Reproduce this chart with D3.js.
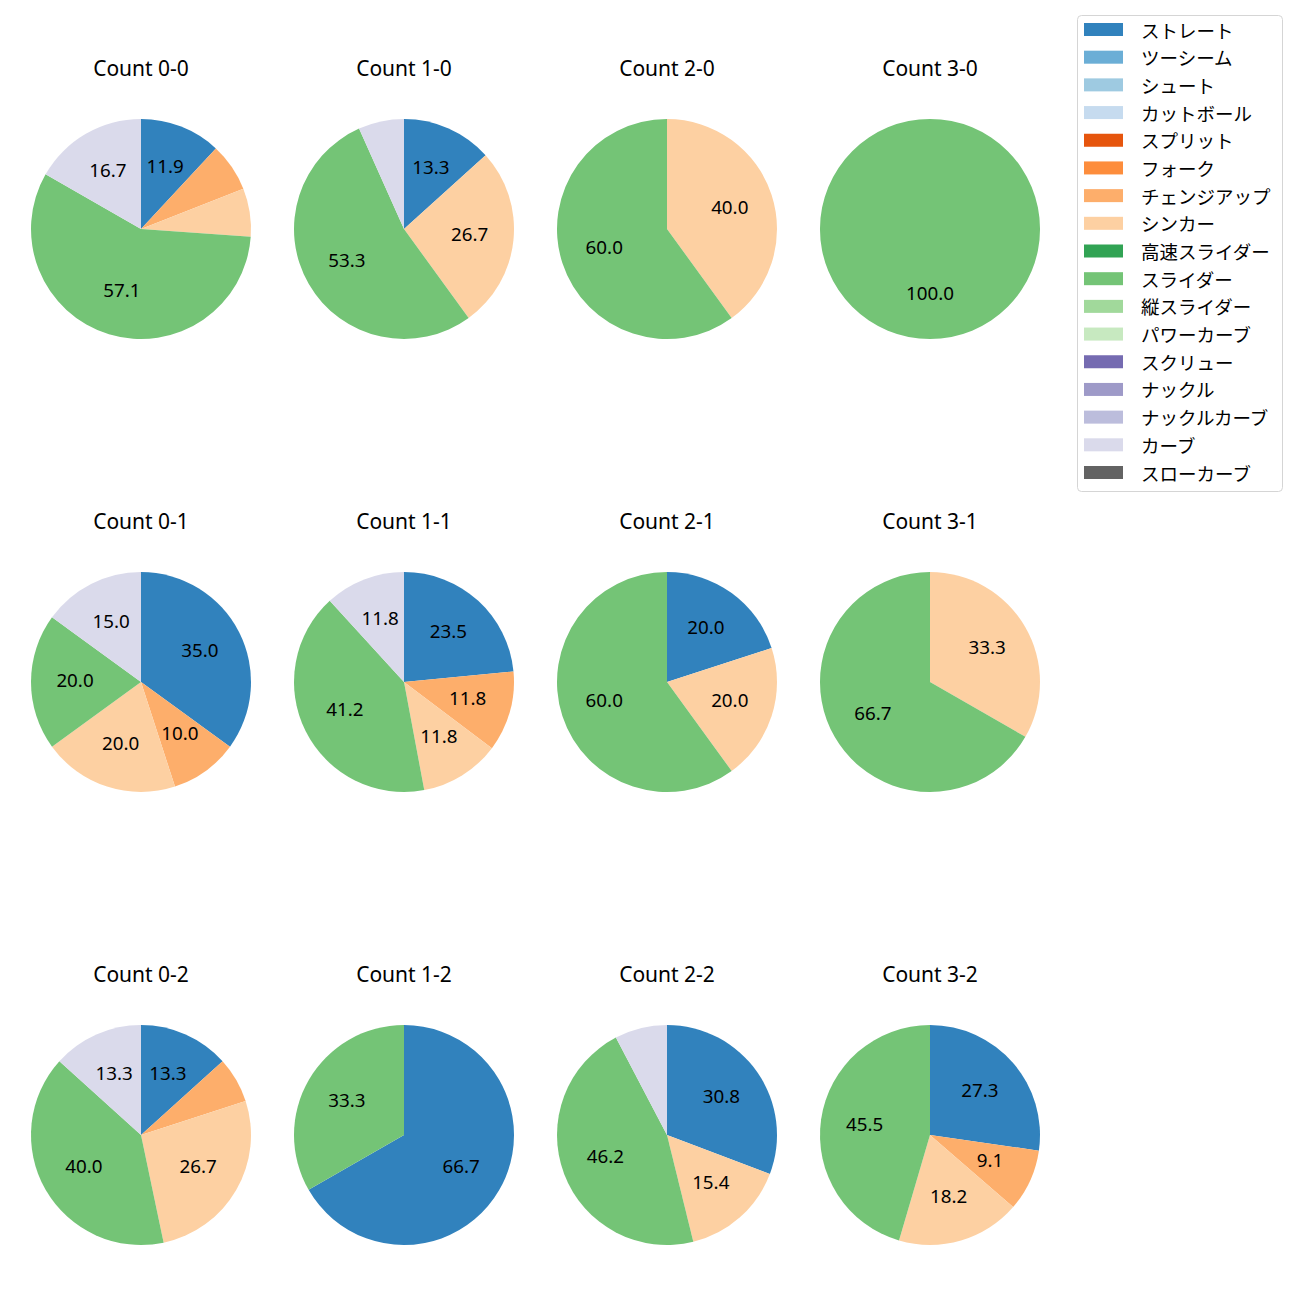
<!DOCTYPE html>
<html><head><meta charset="utf-8">
<script src="https://cdn.jsdelivr.net/npm/d3@7"></script>
<style>body{margin:0;background:#fff}</style>
</head><body>
<script>
const pitchTypes = ["ストレート","ツーシーム","シュート","カットボール","スプリット","フォーク","チェンジアップ","シンカー","高速スライダー","スライダー","縦スライダー","パワーカーブ","スクリュー","ナックル","ナックルカーブ","カーブ","スローカーブ"];
const pitchColors = ["#3182bd","#6baed6","#9ecae1","#c6dbef","#e6550d","#fd8d3c","#fdae6b","#fdd0a2","#31a354","#74c476","#a1d99b","#c7e9c0","#756bb1","#9e9ac8","#bcbddc","#dadaeb","#636363"];
const counts = ["0-0","1-0","2-0","3-0","0-1","1-1","2-1","3-1","0-2","1-2","2-2","3-2"];
// percentages per count (same order as counts)
const straight = [11.9,13.3,0,0,35.0,23.5,20.0,0,13.3,66.7,30.8,27.3];
const changeup = [7.1,0,0,0,10.0,11.8,0,0,6.7,0,0,9.1];
const sinker   = [7.1,26.7,40.0,0,20.0,11.8,20.0,33.3,26.7,0,15.4,18.2];
const slider   = [57.1,53.3,60.0,100.0,20.0,41.2,60.0,66.7,40.0,33.3,46.2,45.5];
const curve    = [16.7,6.7,0,0,15.0,11.8,0,0,13.3,0,7.7,0];

const seriesByType = {"ストレート":straight,"チェンジアップ":changeup,"シンカー":sinker,"スライダー":slider,"カーブ":curve};

const W=1300,H=1300;
const latin='"Noto Sans","Noto Sans CJK JP",sans-serif';
const cjk='"Noto Sans CJK JP","Noto Sans",sans-serif';
const svg=d3.select("body").append("svg").attr("width",W).attr("height",H);
svg.append("rect").attr("width",W).attr("height",H).attr("fill","#fff");

const color=d3.scaleOrdinal().domain(pitchTypes).range(pitchColors);
const colX=d3.scalePoint().domain([0,1,2,3]).range([141,930]);
const rowY=d3.scalePoint().domain([0,1,2]).range([229,1135]);
const R=110;
const pie=d3.pie().sort(null).value(d=>d.v).startAngle(0).endAngle(2*Math.PI);
const arc=d3.arc().innerRadius(0).outerRadius(R);

counts.forEach((c,i)=>{
  const col=i%4,row=Math.floor(i/4);
  const g=svg.append("g").attr("transform",`translate(${colX(col)},${rowY(row)})`);
  const data=pitchTypes.map(t=>({t,v:seriesByType[t]?seriesByType[t][i]:0})).filter(d=>d.v>0);
  const arcs=pie(data);
  g.selectAll("path").data(arcs).enter().append("path").attr("d",arc).attr("fill",d=>color(d.data.t));
  g.selectAll("text.lbl").data(arcs.filter(d=>d.data.v>8)).enter().append("text")
    .attr("class","lbl")
    .attr("x",d=>0.6*R*Math.sin((d.startAngle+d.endAngle)/2))
    .attr("y",d=>-0.6*R*Math.cos((d.startAngle+d.endAngle)/2))
    .attr("dy",5)
    .attr("text-anchor","middle")
    .attr("font-family",latin).attr("font-size",18.8).attr("fill","#000")
    .text(d=>d.data.v.toFixed(1));
  g.append("text").attr("x",0).attr("y",-153.3).attr("text-anchor","middle")
    .attr("font-family",latin).attr("font-size",21).attr("fill","#000").text("Count "+c);
});

// legend
const lg=svg.append("g");
lg.append("rect").attr("x",1077.5).attr("y",15.5).attr("width",205).attr("height",476).attr("rx",4)
  .attr("fill","#fff").attr("stroke","#d5d5d5").attr("stroke-width",1);
const ly=d3.scaleLinear().domain([0,pitchTypes.length-1]).range([29.5,472.5]);
pitchTypes.forEach((t,i)=>{
  lg.append("rect").attr("x",1084).attr("y",ly(i)-6.5).attr("width",39).attr("height",13).attr("fill",color(t));
  lg.append("text").attr("x",1141).attr("y",ly(i)).attr("dominant-baseline","central")
    .attr("font-family",cjk).attr("font-size",18.5).attr("fill","#000").text(t);
});
</script>
</body></html>
